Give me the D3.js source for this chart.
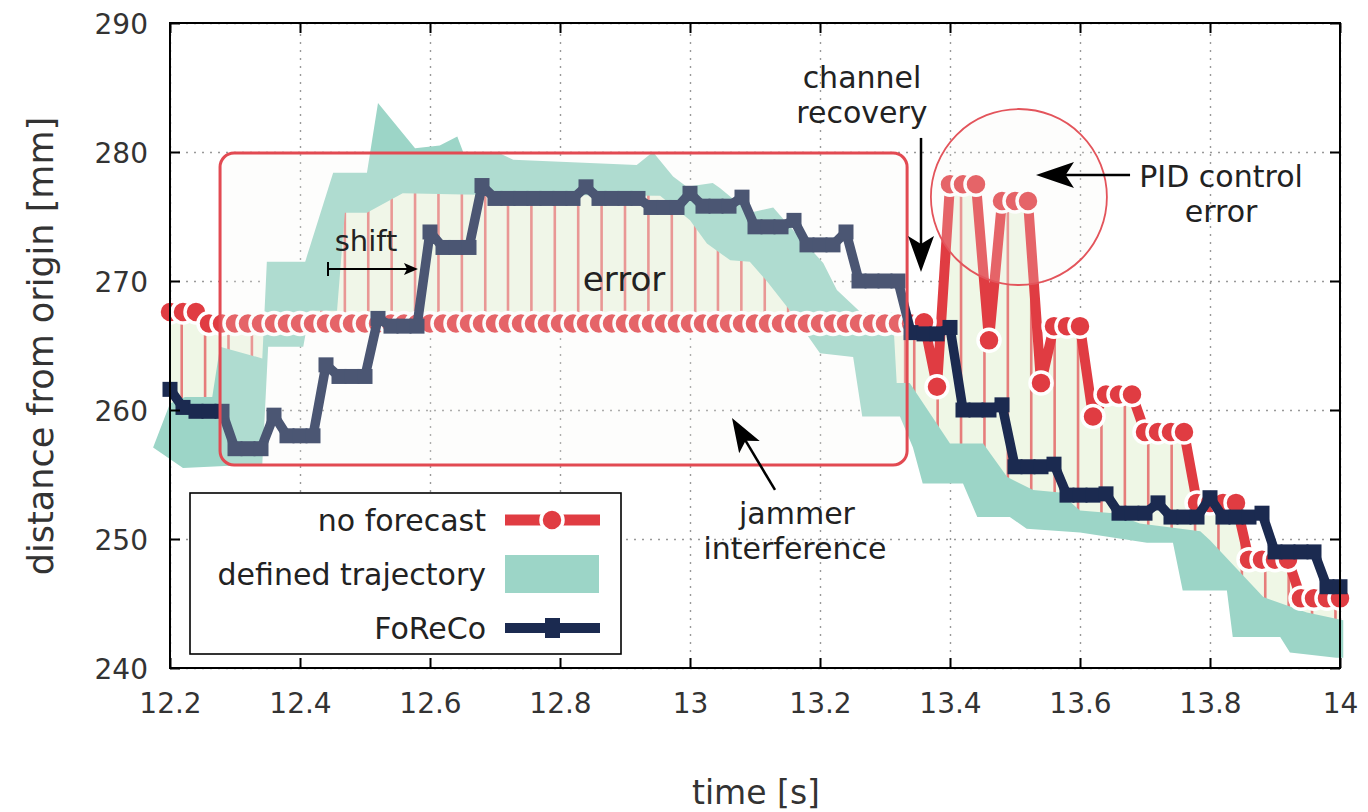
<!DOCTYPE html>
<html><head><meta charset="utf-8">
<script src="https://cdn.jsdelivr.net/npm/d3@7"></script>
<style>
body{margin:0;background:#fff}
svg{display:block}
text{font-family:"DejaVu Sans",sans-serif}
</style>
</head><body>
<svg id="c" width="1368" height="812"></svg>
<script>
// ---------------- DATA ----------------
// sample grid of the two measured series (every 0.02 s from 12.2 to 14.0)
const sampleT = d3.range(91).map(i => +(12.2 + 0.02 * i).toFixed(2));

const noForecast = [
 267.6,267.6,267.6,
 266.7,266.7,266.7,266.7,266.7,266.7,266.7,266.7,266.7,266.7,
 266.7,266.7,266.7,266.7,266.7,266.7,266.7,266.7,266.7,266.7,
 266.7,266.7,266.7,266.7,266.7,266.7,266.7,266.7,266.7,266.7,
 266.7,266.7,266.7,266.7,266.7,266.7,266.7,266.7,266.7,266.7,
 266.7,266.7,266.7,266.7,266.7,266.7,266.7,266.7,266.7,266.7,
 266.7,266.7,266.7,266.7,266.7,
 266.8,261.8,277.5,277.5,277.5,265.4,276.2,276.2,276.2,262.1,
 266.5,266.5,266.5,259.5,261.2,261.2,261.2,258.3,258.3,258.3,
 258.3,252.8,252.8,252.8,252.8,248.4,248.4,248.4,248.4,245.4,
 245.4,245.4,245.4
];

const foreco = [
 261.6,260.2,259.9,259.9,259.9,257.0,257.0,257.0,259.6,258.0,
 258.0,258.0,263.5,262.6,262.6,262.6,267.1,266.5,266.5,266.5,
 273.8,272.6,272.6,272.6,277.4,276.4,276.4,276.4,276.4,276.4,
 276.4,276.4,277.3,276.4,276.4,276.4,276.4,275.7,275.7,275.7,
 276.8,275.8,275.8,275.8,276.5,274.2,274.2,274.2,274.7,272.8,
 272.8,272.8,273.8,270.0,270.0,270.0,270.0,266.0,265.9,265.9,
 266.4,260.0,260.0,260.0,260.4,255.6,255.6,255.6,255.8,253.4,
 253.4,253.4,253.5,252.0,252.0,252.0,252.8,251.7,251.7,251.7,
 253.2,251.7,251.7,251.7,252.0,249.0,249.0,249.0,249.0,246.3,
 246.3
];

// defined trajectory band: upper and lower edges
const trajUpperT = [12.174,12.200,12.223,12.265,12.277,12.342,12.349,12.408,12.451,12.503,
 12.520,12.577,12.615,12.642,12.651,12.703,12.728,12.918,12.943,12.974,
 12.995,13.035,13.046,13.092,13.128,13.154,13.205,13.226,13.262,13.312,
 13.318,13.338,13.400,13.451,13.488,13.528,13.569,13.600,13.651,13.692,
 13.785,13.800,13.882,13.949,14.005];
const trajUpperV = [257.1,260.5,261.0,261.0,264.9,264.0,271.5,271.5,278.4,278.4,
 283.8,280.3,280.5,281.2,280.0,280.0,279.4,279.0,280.0,278.1,
 277.3,277.6,277.2,275.3,275.7,274.2,271.4,269.3,267.6,267.6,
 262.1,262.1,257.4,257.4,254.8,253.8,253.6,252.2,252.0,251.2,
 250.6,249.9,245.5,244.3,243.7];
const trajLowerT = [12.174,12.220,12.342,12.351,12.405,12.415,12.457,12.469,12.503,12.558,
 12.651,12.954,13.000,13.026,13.062,13.092,13.118,13.154,13.200,13.251,
 13.265,13.323,13.343,13.358,13.420,13.442,13.492,13.518,13.600,13.703,
 13.743,13.758,13.826,13.835,13.908,13.923,13.994,14.005];
const trajLowerV = [257.1,255.5,255.8,264.9,264.9,267.7,267.7,275.3,275.3,276.8,
 276.7,276.6,274.7,272.9,271.6,271.5,270.0,267.7,264.4,264.1,
 259.5,259.5,257.1,254.3,254.3,251.7,251.7,250.8,250.5,249.7,
 249.7,246.0,246.0,242.4,242.4,241.2,240.8,240.8];

// times of the error impulses
const errorT = [12.218,12.254,12.290,12.326,12.362,12.397,12.433,12.469,12.505,12.541,
 12.577,12.613,12.649,12.685,12.720,12.756,12.792,12.828,12.864,12.900,
 12.936,12.972,13.008,13.043,13.079,13.115,13.151,13.187,13.223,13.259,
 13.295,13.331,13.345,13.381,13.417,13.453,13.489,13.525,13.561,13.597,
 13.633,13.669,13.705,13.741,13.777,13.813,13.849,13.885,13.921,13.957,13.993];

const xTicks = [12.2,12.4,12.6,12.8,13,13.2,13.4,13.6,13.8,14];
const xTickLabels = ["12.2","12.4","12.6","12.8","13","13.2","13.4","13.6","13.8","14"];
const yTicks = [240,250,260,270,280,290];
const yTickLabels = ["240","250","260","270","280","290"];
const legendLabels = ["no forecast","defined trajectory","FoReCo"];

// ---------------- STYLE ----------------
const RED = "#e03c42", NAVY = "#1b2a50", TEAL = "#9cd5c7", PALE = "#eff7e6";
const ANNO_RED = "#e24a52";

// ---------------- SCALES ----------------
const svg = d3.select("#c");
const x = d3.scaleLinear().domain([12.2, 14]).range([170, 1340]);
const y = d3.scaleLinear().domain([240, 290]).range([668, 23]);

function interp(ts, vs, t) {
  if (t <= ts[0]) return vs[0];
  if (t >= ts[ts.length - 1]) return vs[vs.length - 1];
  const i = d3.bisectRight(ts, t);
  const t0 = ts[i - 1], t1 = ts[i];
  return vs[i - 1] + (vs[i] - vs[i - 1]) * (t - t0) / (t1 - t0);
}
const nfAt = t => interp(sampleT, noForecast, t);
const midAt = t => (interp(trajUpperT, trajUpperV, t) + interp(trajLowerT, trajLowerV, t)) / 2;

// ---------------- GRID ----------------
const grid = svg.append("g");
grid.append("g").attr("transform", `translate(0,${y(240)})`)
  .call(d3.axisBottom(x).tickValues(xTicks).tickSize(-(y(240) - y(290))).tickFormat(""))
  .call(g => g.select(".domain").remove())
  .call(g => g.selectAll("line").attr("stroke", "#999").attr("stroke-width", 1.4).attr("stroke-dasharray", "2,6"));
grid.append("g").attr("transform", `translate(${x(12.2)},0)`)
  .call(d3.axisLeft(y).tickValues(yTicks).tickSize(-(x(14) - x(12.2))).tickFormat(""))
  .call(g => g.select(".domain").remove())
  .call(g => g.selectAll("line").attr("stroke", "#999").attr("stroke-width", 1.4).attr("stroke-dasharray", "2,6"));

// ---------------- ERROR FILL ----------------
const fillT = Array.from(new Set(d3.merge([sampleT, trajUpperT, trajLowerT])))
  .filter(t => t >= 12.2 && t <= 14).sort((a, b) => a - b);
svg.append("path").datum(fillT)
  .attr("d", d3.area().x(t => x(t)).y0(t => y(nfAt(t))).y1(t => y(midAt(t))))
  .attr("fill", PALE);

// impulses
svg.append("g").selectAll("line").data(errorT).join("line")
  .attr("x1", t => x(t)).attr("x2", t => x(t))
  .attr("y1", t => y(nfAt(t))).attr("y2", t => y(midAt(t)))
  .attr("stroke", RED).attr("stroke-opacity", 0.65).attr("stroke-width", 2.6);

// ---------------- BAND ----------------
const bandPts = trajUpperT.map((t, i) => [x(t), y(trajUpperV[i])])
  .concat(trajLowerT.map((t, i) => [x(t), y(trajLowerV[i])]).reverse());
svg.append("path").attr("d", "M" + bandPts.map(p => p.join(",")).join("L") + "Z").attr("fill", TEAL);

// ---------------- NO FORECAST ----------------
const nfData = sampleT.map((t, i) => [t, noForecast[i]]);
svg.append("path").datum(nfData)
  .attr("d", d3.line().x(d => x(d[0])).y(d => y(d[1])))
  .attr("fill", "none").attr("stroke", RED).attr("stroke-width", 10)
  .attr("stroke-linejoin", "round");
svg.append("g").selectAll("circle").data(nfData).join("circle")
  .attr("cx", d => x(d[0])).attr("cy", d => y(d[1])).attr("r", 11)
  .attr("fill", RED).attr("stroke", "#fff").attr("stroke-width", 3.5);

// ---------------- FoReCo ----------------
const fData = sampleT.map((t, i) => [t, foreco[i]]);
svg.append("path").datum(fData)
  .attr("d", d3.line().x(d => x(d[0])).y(d => y(d[1])))
  .attr("fill", "none").attr("stroke", NAVY).attr("stroke-width", 9.5).attr("stroke-linejoin", "round");
svg.append("g").selectAll("rect").data(fData).join("rect")
  .attr("x", d => x(d[0]) - 7.5).attr("y", d => y(d[1]) - 7.5).attr("width", 15).attr("height", 15)
  .attr("fill", NAVY);

// ---------------- ANNOTATIONS ----------------
const ov = svg.append("g");
ov.append("rect")
  .attr("x", x(12.277)).attr("y", y(279.92))
  .attr("width", x(13.334) - x(12.277)).attr("height", y(255.74) - y(279.92))
  .attr("rx", 14).attr("ry", 14)
  .attr("fill", "rgb(245,245,240)").attr("fill-opacity", 0.22)
  .attr("stroke", ANNO_RED).attr("stroke-width", 3);
ov.append("circle").attr("cx", x(13.506)).attr("cy", y(276.51)).attr("r", 88)
  .attr("fill", "rgb(245,245,240)").attr("fill-opacity", 0.22)
  .attr("stroke", "#e3545b").attr("stroke-width", 1.8);

function arrow(g, x1, y1, x2, y2, L, w, sw) {
  const dx = x2 - x1, dy = y2 - y1, len = Math.hypot(dx, dy);
  const ux = dx / len, uy = dy / len, nx = -uy, ny = ux;
  g.append("line").attr("x1", x1).attr("y1", y1)
    .attr("x2", x2 - ux * L * 0.7).attr("y2", y2 - uy * L * 0.7)
    .attr("stroke", "#000").attr("stroke-width", sw);
  const pts = [[x2, y2], [x2 - ux * L + nx * w, y2 - uy * L + ny * w],
    [x2 - ux * L * 0.78, y2 - uy * L * 0.78], [x2 - ux * L - nx * w, y2 - uy * L - ny * w]];
  g.append("path").attr("d", "M" + pts.map(p => p.join(",")).join("L") + "Z").attr("fill", "#000");
}
const an = svg.append("g");
arrow(an, x(13.3554), y(281.09), x(13.3554), y(270.70), 36, 13, 2.5);
arrow(an, x(13.677), y(278.22), x(13.5323), y(278.22), 38, 13, 2.5);
arrow(an, x(13.1308), y(253.80), x(13.0646), y(259.38), 34, 12, 2.5);
arrow(an, x(12.4431), y(270.93), x(12.5815), y(270.93), 14, 6, 2);
an.append("line").attr("x1", x(12.4431)).attr("x2", x(12.4431))
  .attr("y1", y(270.93) - 7).attr("y2", y(270.93) + 7).attr("stroke", "#000").attr("stroke-width", 2);

const texts = [
  ["channel", 13.2646, 284.96, 30], ["recovery", 13.2646, 282.25, 30],
  ["PID control", 13.817, 277.29, 30], ["error", 13.817, 274.57, 30],
  ["jammer", 13.1646, 251.16, 30], ["interference", 13.1615, 248.45, 30],
  ["error", 12.8985, 269.22, 34], ["shift", 12.5015, 272.33, 29]
];
an.selectAll("text").data(texts).join("text")
  .attr("x", d => x(d[1])).attr("y", d => y(d[2]))
  .attr("text-anchor", "middle").attr("font-size", d => d[3]).attr("fill", "#222")
  .text(d => d[0]);

// ---------------- AXES ----------------
const ax = svg.append("g");
ax.append("rect").attr("x", x(12.2)).attr("y", y(290))
  .attr("width", x(14) - x(12.2)).attr("height", y(240) - y(290))
  .attr("fill", "none").attr("stroke", "#000").attr("stroke-width", 2);
const axBottom = ax.append("g").attr("transform", `translate(0,${y(240)})`)
  .call(d3.axisBottom(x).tickValues(xTicks).tickFormat((d, i) => xTickLabels[i]).tickSize(-10));
axBottom.select(".domain").remove();
axBottom.selectAll("line").attr("stroke", "#000").attr("stroke-width", 2);
axBottom.selectAll("text").attr("y", 35).attr("dy", "0.35em").attr("font-size", 28)
  .attr("fill", "#333").attr("font-family", "DejaVu Sans");
const axTop = ax.append("g").attr("transform", `translate(0,${y(290)})`)
  .call(d3.axisTop(x).tickValues(xTicks).tickFormat("").tickSize(-10));
axTop.select(".domain").remove();
axTop.selectAll("line").attr("stroke", "#000").attr("stroke-width", 2);
const axLeft = ax.append("g").attr("transform", `translate(${x(12.2)},0)`)
  .call(d3.axisLeft(y).tickValues(yTicks).tickFormat((d, i) => yTickLabels[i]).tickSize(-10));
axLeft.select(".domain").remove();
axLeft.selectAll("line").attr("stroke", "#000").attr("stroke-width", 2);
axLeft.selectAll("text").attr("x", -22).attr("dy", "0.36em").attr("font-size", 28)
  .attr("fill", "#333").attr("font-family", "DejaVu Sans");
const axRight = ax.append("g").attr("transform", `translate(${x(14)},0)`)
  .call(d3.axisRight(y).tickValues(yTicks).tickFormat("").tickSize(-10));
axRight.select(".domain").remove();
axRight.selectAll("line").attr("stroke", "#000").attr("stroke-width", 2);

ax.append("text").attr("transform", "translate(41,346) rotate(-90)")
  .attr("text-anchor", "middle").attr("dy", "0.35em").attr("font-size", 35).attr("fill", "#333")
  .text("distance from origin [mm]");
ax.append("text").attr("x", 756).attr("y", 792).attr("dy", "0.35em")
  .attr("text-anchor", "middle").attr("font-size", 33).attr("fill", "#333")
  .text("time [s]");

// ---------------- LEGEND ----------------
const lg = svg.append("g");
lg.append("rect").attr("x", 190).attr("y", 493).attr("width", 431).attr("height", 161)
  .attr("fill", "#fff").attr("stroke", "#000").attr("stroke-width", 1.6);
const rowsY = [520, 574, 628];
lg.selectAll("text").data(legendLabels).join("text")
  .attr("x", 486).attr("y", (d, i) => rowsY[i]).attr("dy", "0.35em")
  .attr("text-anchor", "end").attr("font-size", 30).attr("fill", "#222").text(d => d);
lg.append("line").attr("x1", 505).attr("x2", 600).attr("y1", rowsY[0]).attr("y2", rowsY[0])
  .attr("stroke", RED).attr("stroke-width", 11);
lg.append("circle").attr("cx", 552).attr("cy", rowsY[0]).attr("r", 11)
  .attr("fill", RED).attr("stroke", "#fff").attr("stroke-width", 3.5);
lg.append("rect").attr("x", 505).attr("y", rowsY[1] - 19).attr("width", 94).attr("height", 38).attr("fill", TEAL);
lg.append("line").attr("x1", 505).attr("x2", 600).attr("y1", rowsY[2]).attr("y2", rowsY[2])
  .attr("stroke", NAVY).attr("stroke-width", 10);
lg.append("rect").attr("x", 545).attr("y", rowsY[2] - 10).attr("width", 15).attr("height", 20).attr("fill", NAVY);
</script>
</body></html>
